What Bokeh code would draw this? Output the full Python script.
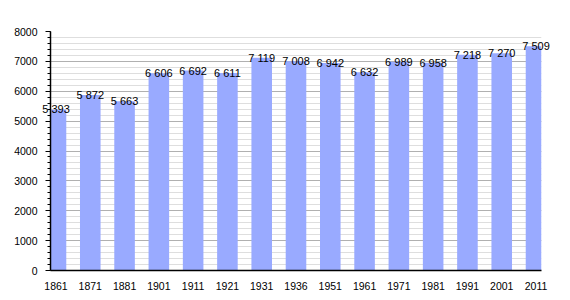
from bokeh.plotting import figure
from bokeh.models import FixedTicker, ColumnDataSource
from bokeh.core.properties import value
from bokeh.embed import file_html
from bokeh.resources import INLINE

years = ["1861", "1871", "1881", "1901", "1911", "1921", "1931", "1936",
         "1951", "1961", "1971", "1981", "1991", "2001", "2011"]
population = [5393, 5872, 5663, 6606, 6692, 6611, 7119, 7008,
              6942, 6632, 6989, 6958, 7218, 7270, 7509]
y_ticks = [0, 1000, 2000, 3000, 4000, 5000, 6000, 7000, 8000]
y_minor = list(range(0, 8001, 200))

labels = [f"{v:,}".replace(",", " ") for v in population]
src = ColumnDataSource(dict(x=years, y=population, lab=labels))

p = figure(width=570, height=300, x_range=years, y_range=(0, 8000),
           output_backend="svg", toolbar_location=None,
           min_border_left=50, min_border_right=29, min_border_top=31,
           min_border_bottom=30)
p.x_range.range_padding = -0.34
p.x_range.range_padding_units = "absolute"
p.outline_line_color = None
p.background_fill_color = "white"

p.vbar(x="x", top="y", width=0.6, source=src, fill_color="#99aaff",
       line_color=None)
p.text(x="x", y="y", text="lab", source=src, text_align="center",
       text_baseline="alphabetic", y_offset=0,
       text_font=value("Liberation Sans"),
       text_font_size="11px", text_color="black", level="overlay")

p.yaxis.ticker = FixedTicker(ticks=y_ticks, minor_ticks=y_minor)
p.ygrid.grid_line_color = "#b0b0b0"
p.ygrid.minor_grid_line_color = "#dedede"
p.xgrid.grid_line_color = None

for ax in (p.xaxis, p.yaxis):
    ax.axis_line_color = "black"
    ax.axis_line_width = 1.5
    ax.major_label_text_font = "Liberation Sans"
    ax.major_label_text_color = "black"
    ax.major_label_text_font_size = "10.5px"

p.yaxis.major_tick_line_color = "black"
p.yaxis.major_tick_in = 0
p.yaxis.major_tick_out = 5
p.yaxis.minor_tick_line_color = "black"
p.yaxis.minor_tick_in = 0
p.yaxis.minor_tick_out = 3
p.yaxis.major_label_standoff = 8
p.xaxis.major_tick_line_color = None
p.xaxis.minor_tick_line_color = None
p.xaxis.major_label_standoff = 5

open("out.html", "w").write(file_html(p, INLINE))
